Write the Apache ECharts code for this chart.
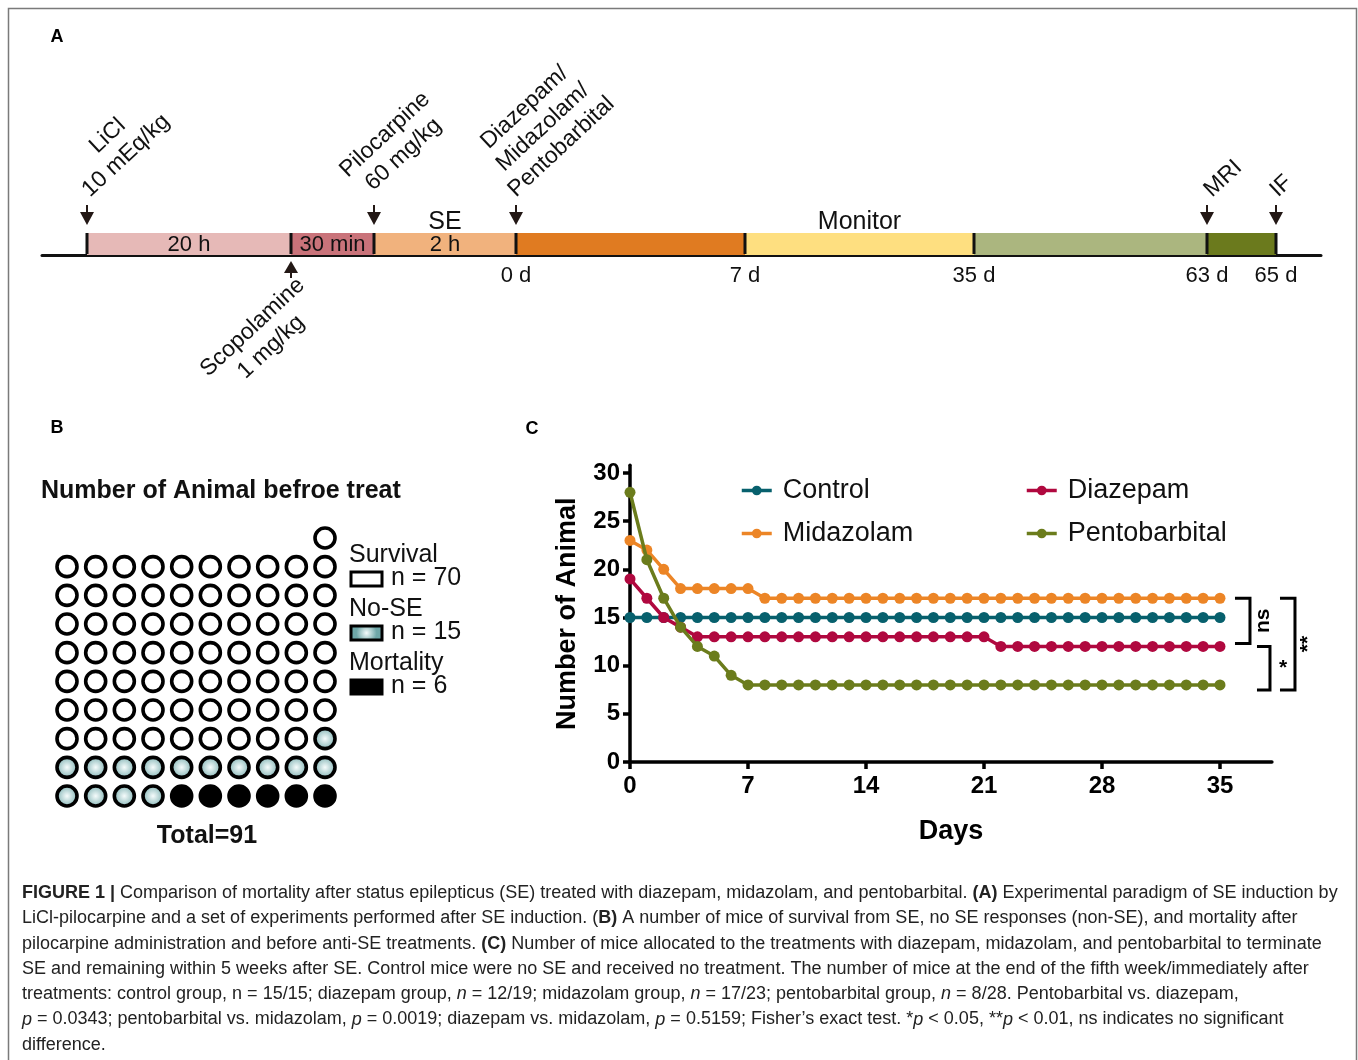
<!DOCTYPE html>
<html>
<head>
<meta charset="utf-8">
<script src="https://cdn.jsdelivr.net/npm/echarts@6/dist/echarts.min.js"></script>
<style>html,body{margin:0;padding:0;background:#fff}#main{width:1358px;height:1060px}</style>
</head>
<body>
<div id="main"></div>
<script>
const FONT = '"Liberation Sans", Arial, Helvetica, sans-serif';

/* ---------------- Panel A : experimental timeline ---------------- */
const segmentLabels = ['20 h', '30 min', '2 h', '', '', '', ''];
const segmentHeads = ['', '', 'SE', '', 'Monitor', '', ''];
const boundaryLabels = ['', '', '', '0 d', '7 d', '35 d', '63 d', '65 d'];
const eventLabels = ['LiCl\n10 mEq/kg', 'Scopolamine\n1 mg/kg', 'Pilocarpine\n60 mg/kg', 'Diazepam/\nMidazolam/\nPentobarbital', 'MRI', 'IF'];
const eventBoundary = [0, 1, 2, 3, 6, 7];
const eventSide = ['above', 'below', 'above', 'above', 'above', 'above'];
// schematic (not-to-scale) display widths of the segments
const segmentDisplayWidth = [204, 83, 142, 229, 229, 233, 69];
const segmentColors = ['#e6b9b7', '#c9737a', '#f1b27d', '#e07b21', '#fedf80', '#abb67f', '#6b7a1d'];
// label nudges (layout)
const eventLabelDx = [8, 1, -3, 5, 10, 7];

/* ---------------- Panel B : animals before treatment ---------------- */
const waffleTitle = 'Number of Animal befroe treat';
const waffleCategories = ['Survival', 'No-SE', 'Mortality'];
const waffleCounts = [70, 15, 6];

/* ---------------- Panel C : survival over days ---------------- */
const days = [0,1,2,3,4,5,6,7,8,9,10,11,12,13,14,15,16,17,18,19,20,21,22,23,24,25,26,27,28,29,30,31,32,33,34,35];
const seriesNames = ['Control', 'Midazolam', 'Diazepam', 'Pentobarbital'];
const control = [15,15,15,15,15,15,15,15,15,15,15,15,15,15,15,15,15,15,15,15,15,15,15,15,15,15,15,15,15,15,15,15,15,15,15,15];
const midazolam = [23,22,20,18,18,18,18,18,17,17,17,17,17,17,17,17,17,17,17,17,17,17,17,17,17,17,17,17,17,17,17,17,17,17,17,17];
const diazepam = [19,17,15,14,13,13,13,13,13,13,13,13,13,13,13,13,13,13,13,13,13,13,12,12,12,12,12,12,12,12,12,12,12,12,12,12];
const pentobarbital = [28,21,17,14,12,11,9,8,8,8,8,8,8,8,8,8,8,8,8,8,8,8,8,8,8,8,8,8,8,8,8,8,8,8,8,8];
const xTicks = [0, 7, 14, 21, 28, 35];
const yTicks = [0, 5, 10, 15, 20, 25, 30];
const comparisons = [['Midazolam', 'Diazepam', 'ns'], ['Diazepam', 'Pentobarbital', '*'], ['Midazolam', 'Pentobarbital', '**']];
const seriesColors = ['#07606d', '#ec8526', '#b0083f', '#6b7c1c'];

/* ---------------- Caption ---------------- */
const captionLines = [
  [['b', 'FIGURE 1 |'], ['n', ' Comparison of mortality after status epilepticus (SE) treated with diazepam, midazolam, and pentobarbital. '], ['b', '(A)'], ['n', ' Experimental paradigm of SE induction by']],
  [['n', 'LiCl-pilocarpine and a set of experiments performed after SE induction. ('], ['b', 'B)'], ['n', ' A number of mice of survival from SE, no SE responses (non-SE), and mortality after']],
  [['n', 'pilocarpine administration and before anti-SE treatments. '], ['b', '(C)'], ['n', ' Number of mice allocated to the treatments with diazepam, midazolam, and pentobarbital to terminate']],
  [['n', 'SE and remaining within 5 weeks after SE. Control mice were no SE and received no treatment. The number of mice at the end of the fifth week/immediately after']],
  [['n', 'treatments: control group, n = 15/15; diazepam group, '], ['i', 'n'], ['n', ' = 12/19; midazolam group, '], ['i', 'n'], ['n', ' = 17/23; pentobarbital group, '], ['i', 'n'], ['n', ' = 8/28. Pentobarbital vs. diazepam,']],
  [['i', 'p'], ['n', ' = 0.0343; pentobarbital vs. midazolam, '], ['i', 'p'], ['n', ' = 0.0019; diazepam vs. midazolam, '], ['i', 'p'], ['n', ' = 0.5159; Fisher\u2019s exact test. *'], ['i', 'p'], ['n', ' < 0.05, **'], ['i', 'p'], ['n', ' < 0.01, ns indicates no significant']],
  [['n', 'difference.']]
];

/* ================= build ================= */
const boundaryPos = [0];
segmentDisplayWidth.forEach(w => boundaryPos.push(boundaryPos[boundaryPos.length - 1] + w));

const measureCtx = document.createElement('canvas').getContext('2d');
function maxLineWidth(str, font) {
  measureCtx.font = font;
  return Math.max.apply(null, str.split('\n').map(s => measureCtx.measureText(s).width));
}
const EVENT_FS = 23;
const EVENT_FONT = EVENT_FS + 'px "Liberation Sans"';

// waffle cells: fill from bottom-right, right-to-left, bottom-to-top
const fillOrder = [2, 1, 0]; // Mortality, No-SE, Survival
const waffleData = [[], [], []];
let cell = 0;
fillOrder.forEach(ci => {
  for (let k = 0; k < waffleCounts[ci]; k++) {
    const row = Math.floor(cell / 10);
    const col = 9 - (cell % 10);
    waffleData[ci].push([col, row]);
    cell++;
  }
});
const totalAnimals = waffleCounts.reduce((a, b) => a + b, 0);
const noSeGradient = { type: 'radial', x: 0.5, y: 0.5, r: 0.55, colorStops: [{ offset: 0, color: '#f6fcfc' }, { offset: 1, color: '#6ea7a8' }] };
const waffleFills = ['#ffffff', noSeGradient, '#000000'];

const seriesValues = [control, midazolam, diazepam, pentobarbital];
const lastValue = name => seriesValues[seriesNames.indexOf(name)][days.length - 1];

const legendBase = { orient: 'vertical', top: 472, itemWidth: 30, itemHeight: 12, itemGap: 16, selectedMode: false,
  lineStyle: { width: 3.5 }, textStyle: { fontSize: 27, color: '#111', fontFamily: FONT, padding: [0, 0, 0, 6] } };

const option = {
  animation: false,
  backgroundColor: '#ffffff',
  textStyle: { fontFamily: FONT },
  grid: [
    { left: 42, top: 233, width: 1279, height: 22 },
    { left: 52.67, top: 523.67, width: 286.67, height: 286.67 },
    { left: 630, top: 465.3, width: 641.9, height: 296.7 }
  ],
  xAxis: [
    { gridIndex: 0, type: 'value', min: -45, max: 1234, axisLine: { show: true, lineStyle: { color: '#111', width: 3 } }, axisTick: { show: false }, axisLabel: { show: false }, splitLine: { show: false } },
    { gridIndex: 1, type: 'value', min: -0.5, max: 9.5, show: false },
    {
      gridIndex: 2, type: 'value', min: 0, max: 38.08,
      axisLine: { show: true, onZero: false, lineStyle: { color: '#000', width: 3.5 } },
      axisTick: { show: true, length: 7, customValues: xTicks, lineStyle: { color: '#000', width: 3.5 } },
      axisLabel: { customValues: xTicks, fontSize: 24, fontWeight: 'bold', color: '#000', margin: 12, fontFamily: FONT },
      splitLine: { show: false },
      name: 'Days', nameLocation: 'middle', nameGap: 56,
      nameTextStyle: { fontSize: 27, fontWeight: 'bold', color: '#000', fontFamily: FONT }
    }
  ],
  yAxis: [
    { gridIndex: 0, type: 'value', min: 0, max: 1, show: false },
    { gridIndex: 1, type: 'value', min: -0.5, max: 9.5, show: false },
    {
      gridIndex: 2, type: 'value', min: 0, max: 30.8,
      axisLine: { show: true, onZero: false, lineStyle: { color: '#000', width: 3.5 } },
      axisTick: { show: true, length: 7, customValues: yTicks, lineStyle: { color: '#000', width: 3.5 } },
      axisLabel: { customValues: yTicks, fontSize: 24, fontWeight: 'bold', color: '#000', margin: 10, fontFamily: FONT },
      splitLine: { show: false },
      name: 'Number of Animal', nameLocation: 'middle', nameGap: 49, nameRotate: 90,
      nameTextStyle: { fontSize: 27, fontWeight: 'bold', color: '#000', fontFamily: FONT }
    }
  ],
  legend: [
    Object.assign({ data: ['Control', 'Midazolam'], left: 735 }, legendBase),
    Object.assign({ data: ['Diazepam', 'Pentobarbital'], left: 1020 }, legendBase)
  ],
  series: []
};

// Panel A: segments
option.series.push({
  type: 'custom', xAxisIndex: 0, yAxisIndex: 0, clip: false, silent: true, z: 2,
  data: segmentDisplayWidth.map((w, i) => [boundaryPos[i], boundaryPos[i + 1], i]),
  encode: { x: [0, 1] },
  renderItem(params, api) {
    const i = params.dataIndex;
    const p0 = api.coord([api.value(0), 0]);
    const p1 = api.coord([api.value(1), 1]);
    const mx = (p0[0] + p1[0]) / 2;
    const children = [{ type: 'rect', shape: { x: p0[0], y: p1[1], width: p1[0] - p0[0], height: p0[1] - p1[1] }, style: { fill: segmentColors[i] } }];
    if (segmentLabels[i]) children.push({ type: 'text', x: mx, y: (p0[1] + p1[1]) / 2 + 1, style: { text: segmentLabels[i], align: 'center', verticalAlign: 'middle', fontSize: 22, fontFamily: FONT, fill: '#111' } });
    if (segmentHeads[i]) children.push({ type: 'text', x: mx, y: p1[1] + 2, style: { text: segmentHeads[i], align: 'center', verticalAlign: 'bottom', fontSize: 25, fontFamily: FONT, fill: '#111' } });
    return { type: 'group', children };
  }
});

// Panel A: boundaries + day labels
option.series.push({
  type: 'custom', xAxisIndex: 0, yAxisIndex: 0, clip: false, silent: true, z: 3,
  data: boundaryPos.map((b, i) => [b, i]),
  encode: { x: 0 },
  renderItem(params, api) {
    const i = params.dataIndex;
    const top = api.coord([api.value(0), 1]);
    const bot = api.coord([api.value(0), 0]);
    const children = [{ type: 'line', shape: { x1: top[0], y1: top[1], x2: bot[0], y2: bot[1] - 1 }, style: { stroke: '#111', lineWidth: 3 } }];
    if (boundaryLabels[i]) children.push({ type: 'text', x: bot[0], y: bot[1] + 10, style: { text: boundaryLabels[i], align: 'center', verticalAlign: 'top', fontSize: 22, fontFamily: FONT, fill: '#111' } });
    return { type: 'group', children };
  }
});

// Panel A: events (arrows + rotated labels)
option.series.push({
  type: 'custom', xAxisIndex: 0, yAxisIndex: 0, clip: false, silent: true, z: 4,
  data: eventBoundary.map((b, i) => [boundaryPos[b], i]),
  encode: { x: 0 },
  renderItem(params, api) {
    const i = params.dataIndex;
    const x = api.coord([api.value(0), 1])[0];
    const yTop = api.coord([api.value(0), 1])[1];
    const yBot = api.coord([api.value(0), 0])[1];
    const ang = 43 * Math.PI / 180;
    const ux = Math.cos(ang), uy = -Math.sin(ang);
    const w = maxLineWidth(eventLabels[i], EVENT_FONT);
    const ink = '#231815';
    const dx = eventLabelDx[i];
    const children = [];
    if (eventSide[i] === 'above') {
      children.push({ type: 'line', shape: { x1: x, y1: yTop - 28, x2: x, y2: yTop - 19 }, style: { stroke: ink, lineWidth: 2 } });
      children.push({ type: 'polygon', shape: { points: [[x - 7, yTop - 21], [x + 7, yTop - 21], [x, yTop - 8]] }, style: { fill: ink } });
      const px = x + dx + ux * w / 2, py = yTop - 30 + uy * w / 2;
      children.push({ type: 'text', x: px, y: py, rotation: ang, style: { text: eventLabels[i], align: 'center', verticalAlign: 'bottom', fontSize: EVENT_FS, lineHeight: 27, fontFamily: FONT, fill: '#111' } });
    } else {
      children.push({ type: 'line', shape: { x1: x, y1: yBot + 23, x2: x, y2: yBot + 15 }, style: { stroke: ink, lineWidth: 2 } });
      children.push({ type: 'polygon', shape: { points: [[x - 7, yBot + 18], [x + 7, yBot + 18], [x, yBot + 6]] }, style: { fill: ink } });
      const px = x + dx - ux * w / 2, py = yBot + 17 - uy * w / 2;
      children.push({ type: 'text', x: px, y: py, rotation: ang, style: { text: eventLabels[i], align: 'center', verticalAlign: 'top', fontSize: EVENT_FS, lineHeight: 27, fontFamily: FONT, fill: '#111' } });
    }
    return { type: 'group', children };
  }
});

// Panel B: waffle
waffleCategories.forEach((c, ci) => {
  option.series.push({
    type: 'scatter', name: c, xAxisIndex: 1, yAxisIndex: 1, symbol: 'circle', symbolSize: 20, silent: true,
    itemStyle: { color: waffleFills[ci], borderColor: '#000', borderWidth: 3.6, opacity: 1 },
    data: waffleData[ci]
  });
});

// Panel C: lines
seriesNames.forEach((n, si) => {
  option.series.push({
    type: 'line', name: n, xAxisIndex: 2, yAxisIndex: 2, symbol: 'circle', symbolSize: 11, showAllSymbol: true,
    lineStyle: { color: seriesColors[si], width: 3.5 }, itemStyle: { color: seriesColors[si] },
    data: days.map((d, k) => [d, seriesValues[si][k]]), z: 5 + si
  });
});

// Panel C: significance brackets
const bracketOffsets = [[15, 30], [37, 50], [60, 75]];
option.series.push({
  type: 'custom', xAxisIndex: 2, yAxisIndex: 2, clip: false, silent: true, z: 10,
  data: comparisons.map((c, i) => [days[days.length - 1], lastValue(c[0]), lastValue(c[1]), i]),
  encode: { x: 0, y: [1, 2] },
  renderItem(params, api) {
    const i = params.dataIndex;
    const a = api.coord([api.value(0), api.value(1)]);
    const b = api.coord([api.value(0), api.value(2)]);
    const yA = a[1];
    const yB = b[1] + (i === 0 ? -3 : 5);
    const x0 = a[0] + bracketOffsets[i][0], x1 = a[0] + bracketOffsets[i][1];
    const label = comparisons[i][2];
    return {
      type: 'group', children: [
        { type: 'polyline', shape: { points: [[x0, yA], [x1, yA], [x1, yB], [x0, yB]] }, style: { stroke: '#000', lineWidth: 3, fill: 'none' } },
        { type: 'text', x: x1 + 13, y: (yA + yB) / 2, rotation: label === '*' ? 0 : Math.PI / 2,
          style: { text: label, align: 'center', verticalAlign: 'middle', fontSize: 21, fontWeight: 'bold', fontFamily: FONT, fill: '#000' } }
      ]
    };
  }
});

// graphics: texts, legend of panel B, caption, border
const g = [];
g.push({ type: 'rect', z: 0, shape: { x: 8.5, y: 8.5, width: 1348, height: 1080 }, style: { fill: 'rgba(0,0,0,0)', stroke: '#7a7a7a', lineWidth: 1.5 } });
[['A', 57, 37], ['B', 57, 428], ['C', 532, 429]].forEach(t => {
  g.push({ type: 'text', x: t[1], y: t[2], style: { text: t[0], align: 'center', verticalAlign: 'middle', fontSize: 18, fontWeight: 'bold', fontFamily: FONT, fill: '#000' } });
});
g.push({ type: 'text', x: 41, y: 491, style: { text: waffleTitle, align: 'left', verticalAlign: 'middle', fontSize: 25, fontWeight: 'bold', fontFamily: FONT, fill: '#111' } });
g.push({ type: 'text', x: 207, y: 836, style: { text: 'Total=' + totalAnimals, align: 'center', verticalAlign: 'middle', fontSize: 25, fontWeight: 'bold', fontFamily: FONT, fill: '#111' } });
waffleCategories.forEach((c, i) => {
  const y0 = 541 + i * 54;
  g.push({ type: 'text', x: 349, y: y0 + 14, style: { text: c, align: 'left', verticalAlign: 'middle', fontSize: 25, fontFamily: FONT, fill: '#111' } });
  g.push({ type: 'rect', shape: { x: 351, y: y0 + 31, width: 31, height: 14 }, style: { fill: waffleFills[i] === noSeGradient ? { type: 'radial', x: 0.5, y: 0.5, r: 0.6, colorStops: [{ offset: 0, color: '#f6fcfc' }, { offset: 1, color: '#6ea7a8' }] } : waffleFills[i], stroke: '#000', lineWidth: 3 } });
  g.push({ type: 'text', x: 391, y: y0 + 37, style: { text: 'n = ' + waffleCounts[i], align: 'left', verticalAlign: 'middle', fontSize: 25, fontFamily: FONT, fill: '#111' } });
});
const CAP_FS = 18;
const capRich = {
  n: { fontSize: CAP_FS, fontFamily: FONT, fill: '#222' },
  b: { fontSize: CAP_FS, fontFamily: FONT, fontWeight: 'bold', fill: '#222' },
  i: { fontSize: CAP_FS, fontFamily: FONT, fontStyle: 'italic', fill: '#222' }
};
captionLines.forEach((line, k) => {
  const txt = line.map(t => '{' + t[0] + '|' + t[1] + '}').join('');
  g.push({ type: 'text', x: 22, y: 893 + k * 25.3, style: { text: txt, rich: capRich, align: 'left', verticalAlign: 'middle', fontSize: CAP_FS, fontFamily: FONT, fill: '#222' } });
});
option.graphic = { elements: g };

const chart = echarts.init(document.getElementById('main'), null, { width: 1358, height: 1060 });
chart.setOption(option);
</script>
</body>
</html>
